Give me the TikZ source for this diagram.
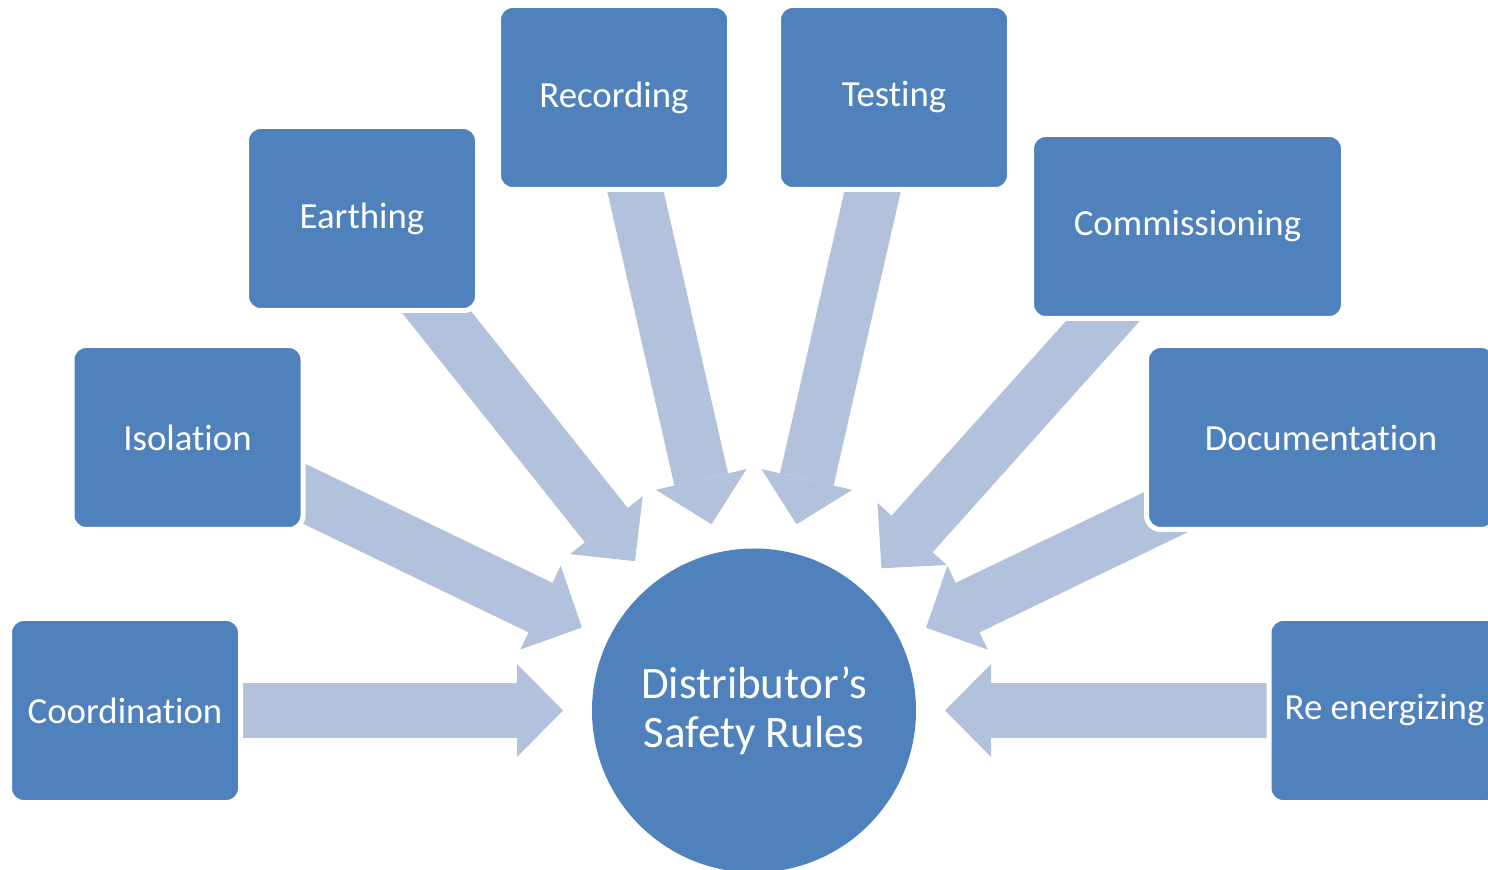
\documentclass[tikz,border=0pt]{standalone}
\usepackage{fontspec}
\setmainfont{Carlito}[Ligatures=NoCommon]
\usetikzlibrary{arrows.meta,backgrounds}
\definecolor{boxblue}{RGB}{79,129,189}
\definecolor{flowblue}{RGB}{178,193,220}

\begin{document}
\begin{tikzpicture}[x=0.5pt,y=-0.5pt]
\tikzset{task/.style={rectangle,rounded corners=7pt,fill=boxblue,draw=white,line width=2.5pt,text=white,minimum width=115.5pt,minimum height=92pt,font=\fontsize{18.4}{22}\selectfont},
flow/.style={draw=flowblue,line width=27.5pt,-{Triangle[length=23pt,width=46.5pt,line width=0pt]},shorten >=14.5pt}}

\useasboundingbox (0,0) rectangle (1488,870);
\node[circle,fill=boxblue,text=white,minimum size=162pt,inner sep=0pt,outer sep=0pt,align=center,font=\fontsize{22.5}{24.5}\selectfont] (rules) at (754,710.5) {Distributor’s\\Safety Rules};

\node[task] (coord) at (125,710.5) {Coordination};
\node[task] (isol) at (187.5,437.5) {Isolation};
\node[task] (earth) at (362,218.5) {Earthing};
\node[task] (record) at (614,97.5) {Recording};
\node[task] (test) at (894,97.5) {Testing};
\node[task,minimum width=156pt] (commis) at (1187.5,226.5) {Commissioning};
\node[task,minimum width=174.5pt] (docu) at (1321,437.5) {Documentation};
\node[task] (reen) at (1384.5,710.5) {Re energizing};

% big arrows go under the boxes
\begin{scope}[on background layer]
\draw[flow] (coord.center) -- (rules);
\draw[flow] (isol.center) -- (rules);
\draw[flow] (earth.center) -- (rules);
\draw[flow] (record.center) -- (rules);
\draw[flow] (test.center) -- (rules);
\draw[flow] (commis.center) -- (rules);
\draw[flow] (docu.center) -- (rules);
\draw[flow] (reen.center) -- (rules);
\end{scope}
\end{tikzpicture}
\end{document}
